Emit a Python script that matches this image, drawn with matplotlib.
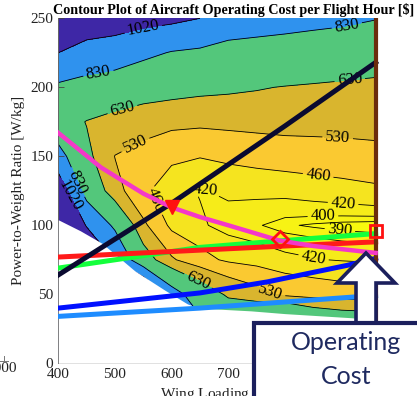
import matplotlib
matplotlib.use('Agg')
import matplotlib.pyplot as plt
import numpy as np
from matplotlib.patches import Polygon, Rectangle

plt.rcParams['font.family'] = ['Liberation Serif', 'DejaVu Serif']
plt.rcParams['mathtext.fontset'] = 'stix'

# operating cost per flight hour [$] on a wing loading / power-to-weight grid
wl = [400, 450, 500, 550, 600, 650, 700, 750, 800, 850, 900, 960]
pw = [0, 25, 50, 75, 100, 125, 150, 175, 200, 225, 250]
# one list per wing loading column, from pw=0 up to pw=250
cost_cols = [
    [2400, 2200, 2000, 1800, 1500, 1150, 900, 700, 800, 1020, 1150],
    [2300, 2000, 1700, 1400, 1000, 760, 660, 625, 760, 960, 1120],
    [2100, 1800, 1400, 1000, 800, 560, 528, 590, 720, 940, 1100],
    [1800, 1600, 1350, 700, 545, 470, 500, 565, 690, 870, 1080],
    [1700, 1300, 915, 540, 445, 432, 470, 550, 675, 820, 1060],
    [1200, 900, 720, 480, 425, 418, 462, 545, 660, 800, 1020],
    [1100, 800, 610, 450, 408, 425, 470, 550, 650, 790, 900],
    [1300, 900, 560, 438, 402, 426, 478, 555, 638, 780, 890],
    [1500, 1000, 510, 428, 392, 428, 485, 560, 625, 770, 880],
    [1400, 850, 495, 422, 388, 434, 490, 560, 615, 755, 870],
    [1400, 800, 485, 418, 385, 440, 495, 560, 605, 740, 860],
    [1300, 780, 480, 415, 383, 448, 505, 560, 590, 730, 835],
]
levels = [390, 400, 420, 460, 530, 630, 830, 1020]

# infeasible corner (left blank)
infeas_x = [400, 439, 477, 535, 588, 628, 649, 740, 800, 918, 960]
infeas_y = [104, 96, 87, 67, 53, 43, 40, 38, 36, 33, 31]

# constraint curves
climb_x = [400, 600, 800, 960]
climb_y = [64, 116, 172, 218]
turn_x = [400, 475, 550, 600, 650, 700, 790, 850, 960]
turn_y = [167, 142, 123, 113, 106, 100, 89, 85, 80]
ceil_x = [400, 650, 800, 960]
ceil_y = [77, 82, 85, 88]
cruise_x = [400, 650, 800, 960]
cruise_y = [69, 84, 89, 94]
takeoff_x = [400, 650, 769, 910, 960]
takeoff_y = [40, 51, 59, 71, 76]
landing_x = [400, 650, 920, 960]
landing_y = [34, 40, 48, 49]
stall_wl = 960

# design points
pt_tri = (600, 113)
pt_dia = (792, 90)
pt_sq = (960, 96)

label_pos = [(549, 244), (470, 212), (909, 245), (512, 186), (914, 207),
             (532, 162), (893, 163), (858, 134), (570, 118), (661, 131),
             (902, 112), (867, 106), (897, 97), (850, 75), (773, 50),
             (644, 57), (433, 131), (415, 120)]

band_colors = ['#f8f90e', '#f7f314', '#f6ec19', '#f5e41f', '#fac931',
               '#d9b52e', '#53c77b', '#2f92ee', '#3e27a6']

W, H = 417, 396
fig = plt.figure(figsize=(W / 100, H / 100), dpi=100)
ax = fig.add_axes([58.3 / W, 1 - 363.3 / H, 340 / W, 345 / H])

X, Y = np.meshgrid(wl, pw)
C = np.array(cost_cols).T
ax.contourf(X, Y, C, levels=[0] + levels + [5000], colors=band_colors)
cs = ax.contour(X, Y, C, levels=levels, colors='k', linewidths=0.6)
ax.clabel(cs, manual=label_pos, inline=True, inline_spacing=4, fontsize=12, fmt='%d')

ax.fill_between(infeas_x, 0, infeas_y, color='white', lw=0, zorder=3)

ax.plot(landing_x, landing_y, color='#1e8cff', lw=3.6, zorder=4)
ax.plot(takeoff_x, takeoff_y, color='#0010ff', lw=3.6, zorder=4)
ax.plot(cruise_x, cruise_y, color='#14ff3c', lw=3.6, zorder=5)
ax.plot(ceil_x, ceil_y, color='#ff1a1a', lw=3.6, zorder=5)
ax.plot(climb_x, climb_y, color='#0a0a30', lw=3.6, zorder=6)
ax.plot(turn_x, turn_y, color='#f438c8', lw=3.2, zorder=7)
ax.axvline(stall_wl, color='#6b2c0c', lw=3, zorder=6)

ax.plot(*pt_tri, marker='v', ms=10, color='#ff1010', mec='#ff1010', zorder=9)
ax.plot(*pt_dia, marker='D', ms=8, mfc='none', mec='#ff1010', mew=2, zorder=9)
ax.plot(*pt_sq, marker='s', ms=8, mfc='none', mec='#ff1010', mew=2, zorder=9)

ax.set_xlim(400, 1000)
ax.set_ylim(0, 250)
ax.set_xticks(range(400, 1001, 100))
ax.set_yticks(range(0, 251, 50))
ax.spines[['top', 'right']].set_visible(False)
for s in ('left', 'bottom'):
    ax.spines[s].set_color('#666666')
    ax.spines[s].set_linewidth(0.7)
ax.tick_params(direction='in', length=4, width=0.6, colors='#444444',
               labelsize=11, labelcolor='#222222')
ax.set_xlabel('Wing Loading [N/m$^2$]', fontsize=11, color='#222222', labelpad=2)
ax.set_ylabel('Power-to-Weight Ratio [W/kg]', fontsize=11, color='#222222', labelpad=4)

fig.text(234 / W, 1 - 10 / H, 'Contour Plot of Aircraft Operating Cost per Flight Hour [$]',
         ha='center', va='center', fontsize=10.2, fontweight='bold')

# neighbouring panel edge and callout
ov = fig.add_axes([0, 0, 1, 1], zorder=10)
ov.set_xlim(0, W)
ov.set_ylim(H, 0)
ov.axis('off')
ov.plot([0, 8], [361, 361], color='#777777', lw=0.7)
ov.plot([4, 4], [356, 361], color='#777777', lw=0.7)
ov.text(2, 369, '1000', ha='center', va='center', fontsize=11, color='#222222')

navy = '#1b1f5c'
arrow = [(366, 253), (337, 283), (356, 283), (356, 323), (376, 323), (376, 283), (395, 283)]
ov.add_patch(Polygon(arrow, closed=True, fc='white', ec=navy, lw=2.6, joinstyle='miter'))
ov.add_patch(Rectangle((254, 323), 220, 120, fc='white', ec=navy, lw=3))
ov.text(346, 343, 'Operating', ha='center', va='center', fontsize=18,
        color='#1f2a60', family='Lato')
ov.text(346, 376, 'Cost', ha='center', va='center', fontsize=18,
        color='#1f2a60', family='Lato')

fig.savefig('out.png', dpi=100)
